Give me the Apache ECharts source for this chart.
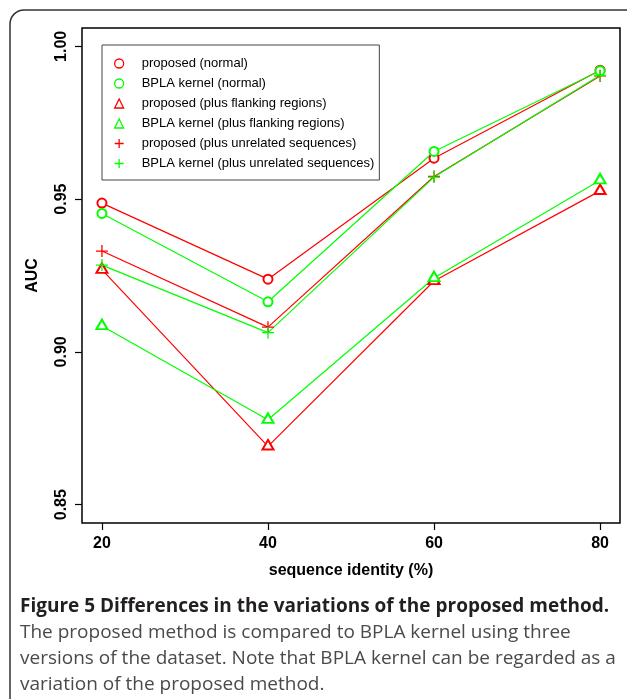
<!DOCTYPE html>
<html>
<head>
<meta charset="utf-8">
<script src="https://cdn.jsdelivr.net/npm/echarts@6/dist/echarts.min.js"></script>
<style>
  html, body { margin: 0; padding: 0; background: #fff; }
  #chart { width: 627px; height: 699px; }
</style>
</head>
<body>
<div id="chart"></div>
<script>
// ---- data ----
var identity = [20, 40, 60, 80];
var proposedNormal    = [0.9487, 0.9238, 0.9634, 0.9922];
var bplaNormal        = [0.9453, 0.9164, 0.9656, 0.9920];
var proposedFlanking  = [0.9269, 0.8691, 0.9232, 0.9527];
var bplaFlanking      = [0.9085, 0.8778, 0.9242, 0.9562];
var proposedUnrelated = [0.9330, 0.9081, 0.9574, 0.9903];
var bplaUnrelated     = [0.9284, 0.9063, 0.9572, 0.9905];
var xTicks = [20, 40, 60, 80];
var yTicks = [0.85, 0.90, 0.95, 1.00];
var seriesNames = [
  'proposed (normal)',
  'BPLA kernel (normal)',
  'proposed (plus flanking regions)',
  'BPLA kernel (plus flanking regions)',
  'proposed (plus unrelated sequences)',
  'BPLA kernel (plus unrelated sequences)'
];
var captionTitle = 'Figure 5 Differences in the variations of the proposed method.';
var captionLines = [
  'The proposed method is compared to BPLA kernel using three',
  'versions of the dataset. Note that BPLA kernel can be regarded as a',
  'variation of the proposed method.'
];

var RED = '#ff0000', GREEN = '#00ff00';
var PLUS = 'path://M0,5L10,5M5,0L5,10';

function pairs(vals) {
  return identity.map(function (x, i) { return [x, vals[i]]; });
}

var defs = [
  { vals: proposedNormal,    color: RED,   kind: 'circle' },
  { vals: bplaNormal,        color: GREEN, kind: 'circle' },
  { vals: proposedFlanking,  color: RED,   kind: 'triangle' },
  { vals: bplaFlanking,      color: GREEN, kind: 'triangle' },
  { vals: proposedUnrelated, color: RED,   kind: 'plus' },
  { vals: bplaUnrelated,     color: GREEN, kind: 'plus' }
];

var series = defs.map(function (d, i) {
  var s = {
    name: seriesNames[i],
    type: 'line',
    data: pairs(d.vals),
    lineStyle: { color: d.color, width: 1.2 },
    itemStyle: { color: d.color, borderColor: d.color, borderWidth: 1.3 },
    emphasis: { disabled: true },
    animation: false,
    z: 2
  };
  if (d.kind === 'circle') {
    s.symbol = 'emptyCircle'; s.symbolSize = 9;
  } else if (d.kind === 'triangle') {
    s.symbol = 'emptyTriangle'; s.symbolSize = [11, 9.5]; s.symbolOffset = [0, -1.6];
  } else {
    s.symbol = PLUS; s.symbolSize = 12;
  }
  return s;
});

var legendData = defs.map(function (d, i) {
  var icon = d.kind === 'circle' ? 'circle' : (d.kind === 'triangle' ? 'triangle' : PLUS);
  return {
    name: seriesNames[i],
    icon: icon,
    itemStyle: { color: 'rgba(0,0,0,0)', borderColor: d.color, borderWidth: 1.3 }
  };
});

var graphics = [
  {
    type: 'rect', silent: true,
    shape: { x: 10, y: 10, width: 700, height: 800, r: 14 },
    style: { fill: 'none', stroke: '#333', lineWidth: 1.5 }
  },
  {
    type: 'text', left: 20, top: 597,
    style: { text: captionTitle, font: 'bold 19px "Open Sans"', fill: '#231f20' }
  }
];
captionLines.forEach(function (t, i) {
  graphics.push({
    type: 'text', left: 20, top: 623 + i * 26,
    style: { text: t, font: '19px "Open Sans"', fill: '#4a4a4a' }
  });
});

var chart = echarts.init(document.getElementById('chart'), null, { renderer: 'canvas' });
chart.setOption({
  animation: false,
  backgroundColor: '#fff',
  grid: {
    left: 82, top: 28, right: 7, bottom: 176,
    show: true, borderColor: '#000', borderWidth: 1.5, backgroundColor: 'transparent'
  },
  legend: {
    orient: 'vertical',
    left: 102, top: 45,
    padding: [12, 5, 10, 12],
    itemWidth: 9, itemHeight: 9, itemGap: 7,
    borderColor: '#444', borderWidth: 1,
    selectedMode: false,
    data: legendData,
    textStyle: {
      fontFamily: '"Liberation Sans", Arial, sans-serif',
      fontSize: 13, color: '#000', lineHeight: 9,
      padding: [0, 0, 0, 13]
    }
  },
  xAxis: {
    type: 'value', min: 17.6, max: 82.4,
    name: 'sequence identity (%)', nameLocation: 'middle', nameGap: 40,
    nameTextStyle: { fontFamily: '"Liberation Sans", Arial, sans-serif', fontSize: 16, fontWeight: 'bold', color: '#000' },
    axisLine: { show: false },
    axisTick: { show: true, inside: false, length: 7, customValues: xTicks, lineStyle: { color: '#000', width: 1.2 } },
    axisLabel: { customValues: xTicks, margin: 13, fontFamily: '"Liberation Sans", Arial, sans-serif', fontSize: 16, fontWeight: 'bold', color: '#000' },
    splitLine: { show: false }
  },
  yAxis: {
    type: 'value', min: 0.844, max: 1.006,
    name: 'AUC', nameLocation: 'middle', nameGap: 41, nameRotate: 90,
    nameTextStyle: { fontFamily: '"Liberation Sans", Arial, sans-serif', fontSize: 16, fontWeight: 'bold', color: '#000' },
    axisLine: { show: false },
    axisTick: { show: true, inside: false, length: 7, customValues: yTicks, lineStyle: { color: '#000', width: 1.2 } },
    axisLabel: {
      customValues: yTicks, rotate: 90, margin: 12,
      formatter: function (v) { return v.toFixed(2); },
      fontFamily: '"Liberation Sans", Arial, sans-serif', fontSize: 16, fontWeight: 'bold', color: '#000'
    },
    splitLine: { show: false }
  },
  graphic: graphics,
  series: series
});
</script>
</body>
</html>
